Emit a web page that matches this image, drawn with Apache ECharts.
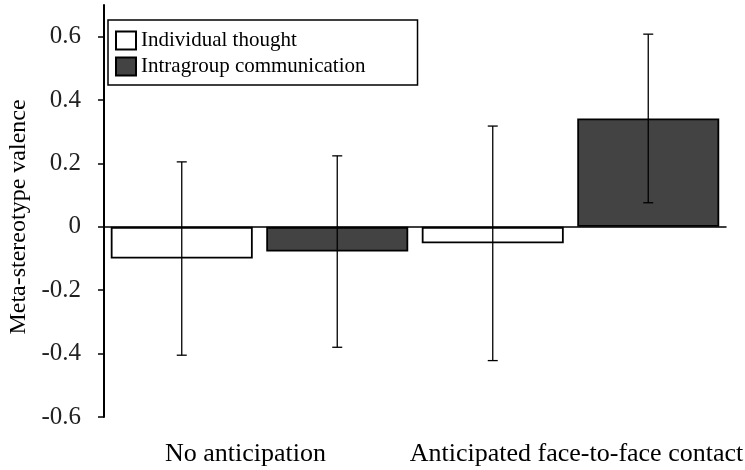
<!DOCTYPE html>
<html>
<head>
<meta charset="utf-8">
<script src="https://cdn.jsdelivr.net/npm/echarts@6/dist/echarts.min.js"></script>
<style>
html,body{margin:0;padding:0;background:#fff;}
#chart{width:745px;height:470px;}
</style>
</head>
<body>
<div id="chart"></div>
<script>
var categories = ['No anticipation', 'Anticipated face-to-face contact'];
var seriesNames = ['Individual thought', 'Intragroup communication'];
var individualMeans = [-0.10, -0.052];
var individualErrors = [0.305, 0.37];
var intragroupMeans = [-0.078, 0.342];
var intragroupErrors = [0.302, 0.266];
var yTicks = [-0.6, -0.4, -0.2, 0, 0.2, 0.4, 0.6];

var FONT = '"Liberation Serif", "Times New Roman", serif';
var BAR_W = 142;
var BAR_GAP = 0.095;

function errorSeries(name, means, errs, side) {
  return {
    type: 'custom',
    name: name + ' error',
    xAxisIndex: 0,
    yAxisIndex: 0,
    z: 10,
    silent: true,
    data: means.map(function (m, i) { return [i, m, errs[i]]; }),
    renderItem: function (params, api) {
      var i = api.value(0), m = api.value(1), e = api.value(2);
      var off = side * (BAR_W / 2 + BAR_W * BAR_GAP / 2);
      var top = api.coord([i, m + e]);
      var bot = api.coord([i, m - e]);
      var x = top[0] + off;
      var cap = 5;
      var st = { stroke: '#000', lineWidth: 1.3 };
      return {
        type: 'group',
        children: [
          { type: 'line', shape: { x1: x, y1: top[1], x2: x, y2: bot[1] }, style: st },
          { type: 'line', shape: { x1: x - cap, y1: top[1], x2: x + cap, y2: top[1] }, style: st },
          { type: 'line', shape: { x1: x - cap, y1: bot[1], x2: x + cap, y2: bot[1] }, style: st }
        ]
      };
    }
  };
}

var chart = echarts.init(document.getElementById('chart'), null, { renderer: 'canvas' });
chart.setOption({
  animation: false,
  backgroundColor: '#fff',
  textStyle: { fontFamily: FONT },
  grid: { left: 104, right: 19, top: 5, bottom: 53, containLabel: false, outerBoundsMode: 'none' },
  legend: {
    orient: 'vertical',
    left: 108,
    top: 20,
    padding: [10, 52, 8, 7],
    itemWidth: 20,
    itemHeight: 18,
    itemGap: 5,
    icon: 'rect',
    borderColor: '#000',
    borderWidth: 1.5,
    backgroundColor: '#fff',
    textStyle: { fontFamily: FONT, fontSize: 21, color: '#000' },
    data: seriesNames
  },
  xAxis: [
    {
      type: 'category',
      data: categories,
      axisLine: { onZero: true, lineStyle: { color: '#000', width: 1.5 } },
      axisTick: { show: false },
      axisLabel: { show: false },
      splitLine: { show: false }
    },
    {
      type: 'category',
      position: 'bottom',
      data: categories,
      axisLine: { show: false, onZero: false },
      axisTick: { show: false },
      splitLine: { show: false },
      axisLabel: {
        interval: 0,
        hideOverlap: false,
        margin: 24,
        fontFamily: FONT,
        fontSize: 26,
        color: '#000',
        formatter: function (v, i) { return i === 0 ? '{a|' + v + '}' : '{b|' + v + '}'; },
        rich: {
          a: { fontFamily: FONT, fontSize: 26, color: '#000', padding: [0, 28, 0, 0] },
          b: { fontFamily: FONT, fontSize: 26, color: '#000', padding: [0, 0, 0, 12] }
        }
      }
    }
  ],
  yAxis: {
    type: 'value',
    min: -0.6,
    max: 0.7,
    interval: 0.2,
    name: 'Meta-stereotype valence',
    nameLocation: 'middle',
    nameRotate: 90,
    nameGap: 65,
    nameTextStyle: { fontFamily: FONT, fontSize: 24, color: '#000', padding: [0, 12, 0, 0] },
    axisLine: { show: true, lineStyle: { color: '#000', width: 2 } },
    axisTick: { show: true, length: 6, lineStyle: { color: '#000', width: 1.5 }, customValues: yTicks },
    axisLabel: { margin: 23, fontFamily: FONT, fontSize: 25, color: '#222', customValues: yTicks },
    splitLine: { show: false }
  },
  series: [
    {
      name: seriesNames[0],
      type: 'bar',
      xAxisIndex: 0,
      data: individualMeans,
      barWidth: BAR_W,
      barGap: (BAR_GAP * 100) + '%',
      itemStyle: { color: '#fff', borderColor: '#000', borderWidth: 1.8 }
    },
    {
      name: seriesNames[1],
      type: 'bar',
      xAxisIndex: 0,
      data: intragroupMeans,
      barWidth: BAR_W,
      barGap: (BAR_GAP * 100) + '%',
      itemStyle: { color: '#434343', borderColor: '#000', borderWidth: 1.8 }
    },
    errorSeries(seriesNames[0], individualMeans, individualErrors, -1),
    errorSeries(seriesNames[1], intragroupMeans, intragroupErrors, 1)
  ]
});
</script>
</body>
</html>
